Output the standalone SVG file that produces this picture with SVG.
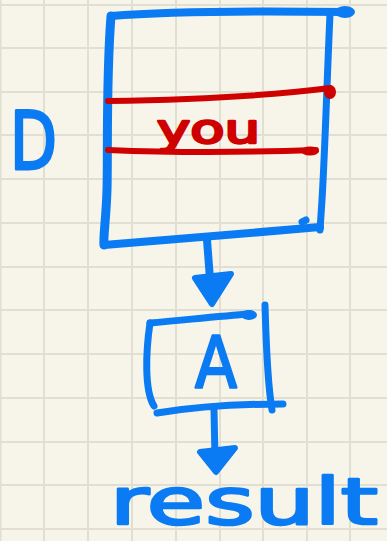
<svg xmlns="http://www.w3.org/2000/svg" width="387" height="541" viewBox="0 0 387 541">
  <style>
    .grid line { stroke: #e1dfd2; stroke-width: 2; }
    .ink { fill: none; stroke: #0a7bf3; stroke-linecap: round; stroke-linejoin: round; }
    .red { fill: none; stroke: #cf0000; stroke-linecap: round; stroke-linejoin: round; }
    .head { fill: #0a7bf3; stroke: #0a7bf3; stroke-width: 6; stroke-linejoin: round; }
    .hand { font-family: "DejaVu Sans", sans-serif; stroke-linejoin: round; }
    .blue-text { fill: #0a7bf3; stroke: #0a7bf3; }
    .red-text { fill: #cf0000; stroke: #cf0000; }
  </style>

  <!-- paper -->
  <rect width="387" height="541" fill="#f7f5ea"/>
  <g class="grid">
    <line x1="0.5" y1="0" x2="0.5" y2="541"/>
    <line x1="44" y1="0" x2="44" y2="541"/>
    <line x1="88" y1="0" x2="88" y2="541"/>
    <line x1="132" y1="0" x2="132" y2="541"/>
    <line x1="176" y1="0" x2="176" y2="541"/>
    <line x1="220" y1="0" x2="220" y2="541"/>
    <line x1="263" y1="0" x2="263" y2="541"/>
    <line x1="307" y1="0" x2="307" y2="541"/>
    <line x1="350" y1="0" x2="350" y2="541"/>
    <line x1="0" y1="5" x2="387" y2="5"/>
    <line x1="0" y1="48" x2="387" y2="48"/>
    <line x1="0" y1="92" x2="387" y2="92"/>
    <line x1="0" y1="135" x2="387" y2="135"/>
    <line x1="0" y1="179" x2="387" y2="179"/>
    <line x1="0" y1="223" x2="387" y2="223"/>
    <line x1="0" y1="267" x2="387" y2="267"/>
    <line x1="0" y1="310" x2="387" y2="310"/>
    <line x1="0" y1="354" x2="387" y2="354"/>
    <line x1="0" y1="398" x2="387" y2="398"/>
    <line x1="0" y1="442" x2="387" y2="442"/>
    <line x1="0" y1="485" x2="387" y2="485"/>
    <line x1="0" y1="529" x2="387" y2="529"/>
  </g>

  <!-- node D: tall box with a highlighted row -->
  <g id="node-d">
    <path class="ink" stroke-width="8" d="M111,16 C170,11 270,11 347,12"/>
    <ellipse cx="345" cy="12" rx="10" ry="6" fill="#0a7bf3"/>
    <path class="ink" stroke-width="9" d="M111,16 C106,80 108,150 107,190 C106,220 103,238 104,245"/>
    <path class="ink" stroke-width="8" d="M104,245 C170,240 260,232 320,227"/>
    <path class="ink" stroke-width="7" d="M330,14 C327,80 325,150 322,200 L320,230"/>
    <path class="ink" stroke-width="7" d="M302,222 L306,220"/>
    <path class="red" stroke-width="6" d="M108,101 C180,100 260,97 330,88"/>
    <ellipse cx="330" cy="92" rx="6" ry="7" fill="#cf0000"/>
    <path class="red" stroke-width="6" d="M108,150 C180,153 260,152 316,150"/>
    <ellipse cx="310" cy="151" rx="9" ry="4.5" fill="#cf0000"/>
    <text class="hand red-text" x="157" y="143" font-size="40" stroke-width="2.5" textLength="103" lengthAdjust="spacingAndGlyphs">you</text>
    <text class="hand blue-text" x="10" y="169" font-size="80" stroke-width="3" textLength="47" lengthAdjust="spacingAndGlyphs">D</text>
  </g>

  <!-- node A: small box -->
  <g id="node-a">
    <path class="ink" stroke-width="7" d="M150,323 C185,320 220,316 250,314"/>
    <ellipse cx="249" cy="315" rx="8" ry="5" fill="#0a7bf3"/>
    <path class="ink" stroke-width="7" d="M150,323 C146,350 144,390 154,406"/>
    <path class="ink" stroke-width="7" d="M157,413 C200,406 240,404 283,404"/>
    <path class="ink" stroke-width="7" d="M265,305 C266,340 267,380 272,410"/>
    <text class="hand blue-text" x="195" y="387" font-size="72" stroke-width="2.5" textLength="42" lengthAdjust="spacingAndGlyphs">A</text>
  </g>

  <!-- result label -->
  <g id="node-result">
    <text class="hand blue-text" x="110" y="524" font-size="64" stroke-width="2.5" textLength="268" lengthAdjust="spacingAndGlyphs">result</text>
  </g>

  <!-- connectors -->
  <g id="connectors">
    <path class="ink" stroke-width="8" d="M207,240 L211,292"/>
    <polygon class="head" points="195,278 231,274 212,304"/>
    <path class="ink" stroke-width="7" d="M214,410 L215,458"/>
    <polygon class="head" points="200,452 235,448 216,472"/>
  </g>
</svg>
